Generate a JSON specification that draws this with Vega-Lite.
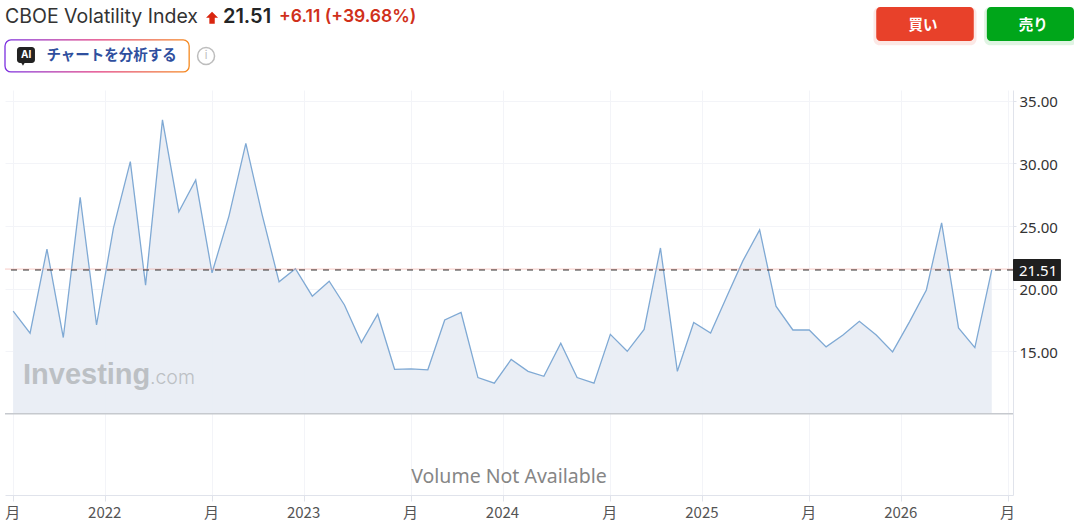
{
  "$schema": "https://vega.github.io/schema/vega-lite/v6.json",
  "width": 1008,
  "height": 405,
  "autosize": "none",
  "padding": {"left": 5, "top": 90, "right": 61, "bottom": 32},
  "background": "white",
  "view": {"stroke": null},
  "datasets": {
    "vix": [
      {"date": "2021-07-16", "close": 18.2},
      {"date": "2021-08-16", "close": 16.44},
      {"date": "2021-09-16", "close": 23.16},
      {"date": "2021-10-16", "close": 16.1},
      {"date": "2021-11-16", "close": 27.3},
      {"date": "2021-12-16", "close": 17.1},
      {"date": "2022-01-16", "close": 24.84},
      {"date": "2022-02-16", "close": 30.15},
      {"date": "2022-03-16", "close": 20.28},
      {"date": "2022-04-16", "close": 33.48},
      {"date": "2022-05-16", "close": 26.15},
      {"date": "2022-06-16", "close": 28.68},
      {"date": "2022-07-16", "close": 21.27},
      {"date": "2022-08-16", "close": 25.8},
      {"date": "2022-09-16", "close": 31.6},
      {"date": "2022-10-16", "close": 25.9},
      {"date": "2022-11-16", "close": 20.55},
      {"date": "2022-12-16", "close": 21.6},
      {"date": "2023-01-16", "close": 19.4},
      {"date": "2023-02-16", "close": 20.6},
      {"date": "2023-03-16", "close": 18.7},
      {"date": "2023-04-16", "close": 15.7},
      {"date": "2023-05-16", "close": 17.96},
      {"date": "2023-06-16", "close": 13.56},
      {"date": "2023-07-16", "close": 13.6},
      {"date": "2023-08-16", "close": 13.52},
      {"date": "2023-09-16", "close": 17.5},
      {"date": "2023-10-16", "close": 18.1},
      {"date": "2023-11-16", "close": 12.9},
      {"date": "2023-12-16", "close": 12.45},
      {"date": "2024-01-16", "close": 14.35},
      {"date": "2024-02-16", "close": 13.4},
      {"date": "2024-03-16", "close": 13.0},
      {"date": "2024-04-16", "close": 15.65},
      {"date": "2024-05-16", "close": 12.9},
      {"date": "2024-06-16", "close": 12.45},
      {"date": "2024-07-16", "close": 16.35},
      {"date": "2024-08-16", "close": 15.0},
      {"date": "2024-09-16", "close": 16.75},
      {"date": "2024-10-16", "close": 23.25},
      {"date": "2024-11-16", "close": 13.4},
      {"date": "2024-12-16", "close": 17.3},
      {"date": "2025-01-16", "close": 16.45},
      {"date": "2025-02-16", "close": 19.5},
      {"date": "2025-03-16", "close": 22.2},
      {"date": "2025-04-16", "close": 24.7},
      {"date": "2025-05-16", "close": 18.6},
      {"date": "2025-06-16", "close": 16.7},
      {"date": "2025-07-16", "close": 16.7},
      {"date": "2025-08-16", "close": 15.35},
      {"date": "2025-09-16", "close": 16.3},
      {"date": "2025-10-16", "close": 17.4},
      {"date": "2025-11-16", "close": 16.3},
      {"date": "2025-12-16", "close": 14.95},
      {"date": "2026-01-16", "close": 17.35},
      {"date": "2026-02-16", "close": 19.9},
      {"date": "2026-03-16", "close": 25.26},
      {"date": "2026-04-16", "close": 16.87},
      {"date": "2026-05-16", "close": 15.29},
      {"date": "2026-06-16", "close": 21.51}
    ],
    "last": [{"close": 21.51}]
  },
  "layer": [
    {
      "data": {"name": "vix"},
      "mark": {"type": "area", "fill": "#e8edf4", "opacity": 0.92},
      "encoding": {
        "x": {
          "field": "date",
          "type": "temporal",
          "scale": {"type": "utc", "domain": [{"year": 2021, "month": 7, "date": 1, "utc": true}, {"year": 2026, "month": 7, "date": 25, "utc": true}], "nice": false},
          "axis": {
            "title": null,
            "values": [
              {"year": 2021, "month": 7, "date": 16, "utc": true},
              {"year": 2022, "month": 1, "date": 1, "utc": true},
              {"year": 2022, "month": 7, "date": 16, "utc": true},
              {"year": 2023, "month": 1, "date": 1, "utc": true},
              {"year": 2023, "month": 7, "date": 16, "utc": true},
              {"year": 2024, "month": 1, "date": 1, "utc": true},
              {"year": 2024, "month": 7, "date": 16, "utc": true},
              {"year": 2025, "month": 1, "date": 1, "utc": true},
              {"year": 2025, "month": 7, "date": 16, "utc": true},
              {"year": 2026, "month": 1, "date": 1, "utc": true},
              {"year": 2026, "month": 7, "date": 16, "utc": true}
            ],
            "labelExpr": "utcmonth(datum.value) === 0 ? '' + utcyear(datum.value) : '月'",
            "labelFont": "Noto Sans CJK JP",
            "labelFontSize": 15,
            "labelColor": "#555555",
            "labelPadding": 4,
            "labelOffset": -1,
            "labelOverlap": false,
            "labelFlush": false,
            "tickColor": "#e0e3eb",
            "tickSize": 6,
            "domainColor": "#e0e3eb",
            "grid": true,
            "gridColor": "#f3f4f8"
          }
        },
        "y": {
          "field": "close",
          "type": "quantitative",
          "scale": {"domain": [3.52, 35.87], "nice": false, "zero": false},
          "axis": {
            "title": null,
            "orient": "right",
            "values": [15, 20, 25, 30, 35],
            "format": ".2f",
            "labelFont": "Noto Sans",
            "labelFontSize": 15,
            "labelColor": "#333333",
            "labelPadding": 3,
            "labelOffset": 1,
            "tickColor": "#e0e3eb",
            "tickSize": 3,
            "domainColor": "#e0e3eb",
            "grid": true,
            "gridColor": "#f3f4f8"
          }
        },
        "y2": {"datum": 10}
      }
    },
    {
      "data": {"values": [{"base": 10}]},
      "mark": {"type": "rule", "color": "#c6c9ce", "strokeWidth": 1.5},
      "encoding": {"y": {"field": "base", "type": "quantitative"}}
    },
    {
      "data": {"name": "vix"},
      "mark": {"type": "line", "color": "#7fa9d4", "strokeWidth": 1.3},
      "encoding": {
        "x": {"field": "date", "type": "temporal"},
        "y": {"field": "close", "type": "quantitative"}
      }
    },
    {
      "data": {"name": "last"},
      "mark": {"type": "rule", "color": "#333333", "strokeWidth": 1.2, "strokeDash": [6, 6]},
      "encoding": {"y": {"field": "close", "type": "quantitative"}}
    },
    {
      "data": {"name": "last"},
      "mark": {"type": "rule", "color": "#f2a8a0", "strokeWidth": 0.6, "yOffset": -0.7},
      "encoding": {"y": {"field": "close", "type": "quantitative"}}
    },
    {
      "data": {"name": "last"},
      "mark": {"type": "rect", "fill": "#1f1f1f", "cornerRadius": 1},
      "encoding": {
        "x": {"datum": {"year": 2026, "month": 7, "date": 25, "utc": true}, "type": "temporal"},
        "x2": {"datum": {"year": 2026, "month": 10, "date": 21, "utc": true}},
        "y": {"datum": 22.37},
        "y2": {"datum": 20.62}
      }
    },
    {
      "data": {"name": "last"},
      "mark": {"type": "text", "color": "white", "font": "Noto Sans", "fontSize": 15, "align": "center", "baseline": "middle", "dy": 1},
      "encoding": {
        "x": {"datum": {"year": 2026, "month": 9, "date": 9, "utc": true}, "type": "temporal"},
        "y": {"field": "close", "type": "quantitative"},
        "text": {"field": "close", "type": "quantitative", "format": ".2f"}
      }
    },
    {
      "data": {"values": [{"label": "Volume Not Available"}]},
      "mark": {"type": "text", "color": "#868686", "font": "Noto Sans", "fontSize": 19.5, "align": "center", "baseline": "middle"},
      "encoding": {
        "x": {"datum": {"year": 2024, "month": 1, "date": 12, "utc": true}, "type": "temporal"},
        "y": {"datum": 4.96},
        "text": {"field": "label"}
      }
    },
    {
      "data": {"values": [{"label": "Investing"}]},
      "mark": {"type": "text", "color": "#bcc0c4", "font": "Liberation Sans", "fontWeight": "bold", "fontSize": 29, "align": "left", "baseline": "middle"},
      "encoding": {
        "x": {"datum": {"year": 2021, "month": 8, "date": 3, "utc": true}, "type": "temporal"},
        "y": {"datum": 13.1},
        "text": {"field": "label"}
      }
    },
    {
      "data": {"values": [{"label": ".com"}]},
      "mark": {"type": "text", "color": "#bcc0c4", "font": "Inter", "fontWeight": 300, "fontSize": 19.5, "align": "left", "baseline": "middle"},
      "encoding": {
        "x": {"datum": {"year": 2022, "month": 3, "date": 24, "utc": true}, "type": "temporal"},
        "y": {"datum": 12.9},
        "text": {"field": "label"}
      }
    },
    {
      "data": {"values": [{"label": "CBOE Volatility Index"}]},
      "mark": {"type": "text", "color": "#333333", "font": "Inter", "fontSize": 19.5, "align": "left", "baseline": "middle"},
      "encoding": {
        "x": {"datum": {"year": 2021, "month": 7, "date": 1, "utc": true}, "type": "temporal"},
        "y": {"datum": 41.7},
        "text": {"field": "label"}
      }
    },
    {
      "data": {"values": [{"label": "up"}]},
      "mark": {"type": "point", "filled": true, "fill": "#d9260f", "opacity": 1, "size": 144, "shape": "M0,-1 L1,0 L0.45,0 L0.45,1 L-0.45,1 L-0.45,0 L-1,0 Z"},
      "encoding": {
        "x": {"datum": {"year": 2022, "month": 7, "date": 16, "utc": true}, "type": "temporal"},
        "y": {"datum": 41.65}
      }
    },
    {
      "data": {"values": [{"label": "21.51"}]},
      "mark": {"type": "text", "color": "#232526", "font": "Inter", "fontWeight": 600, "fontSize": 20, "align": "left", "baseline": "middle"},
      "encoding": {
        "x": {"datum": {"year": 2022, "month": 8, "date": 5, "utc": true}, "type": "temporal"},
        "y": {"datum": 41.7},
        "text": {"field": "label"}
      }
    },
    {
      "data": {"values": [{"label": "+6.11  (+39.68%)"}]},
      "mark": {"type": "text", "color": "#d0301a", "font": "Inter", "fontWeight": 600, "fontSize": 17.5, "align": "left", "baseline": "middle"},
      "encoding": {
        "x": {"datum": {"year": 2022, "month": 11, "date": 16, "utc": true}, "type": "temporal"},
        "y": {"datum": 41.7},
        "text": {"field": "label"}
      }
    },
    {
      "data": {"values": [{"label": "AI"}]},
      "mark": {
        "type": "rect",
        "fill": "white",
        "strokeWidth": 1.3,
        "cornerRadius": 6,
        "stroke": {
          "gradient": "linear",
          "x1": 0, "y1": 0, "x2": 1, "y2": 0,
          "stops": [
            {"offset": 0, "color": "#7b2fe0"},
            {"offset": 0.5, "color": "#e0357e"},
            {"offset": 1, "color": "#f58a1f"}
          ]
        }
      },
      "encoding": {
        "x": {"datum": {"year": 2021, "month": 7, "date": 1, "utc": true}, "type": "temporal"},
        "x2": {"datum": {"year": 2022, "month": 6, "date": 4, "utc": true}},
        "y": {"datum": 39.87},
        "y2": {"datum": 37.31}
      }
    },
    {
      "data": {"values": [{"label": "AI"}]},
      "mark": {"type": "rect", "fill": "#222222", "cornerRadius": 3},
      "encoding": {
        "x": {"datum": {"year": 2021, "month": 7, "date": 23, "utc": true}, "type": "temporal"},
        "x2": {"datum": {"year": 2021, "month": 8, "date": 25, "utc": true}},
        "y": {"datum": 39.3},
        "y2": {"datum": 38.03}
      }
    },
    {
      "data": {"values": [{"label": "AI"}]},
      "mark": {"type": "point", "shape": "triangle-down", "filled": true, "fill": "#222222", "opacity": 1, "size": 30},
      "encoding": {
        "x": {"datum": {"year": 2021, "month": 8, "date": 3, "utc": true}, "type": "temporal"},
        "y": {"datum": 38.0}
      }
    },
    {
      "data": {"values": [{"label": "AI"}]},
      "mark": {"type": "text", "color": "white", "font": "Inter", "fontWeight": "bold", "fontSize": 10, "align": "center", "baseline": "middle"},
      "encoding": {
        "x": {"datum": {"year": 2021, "month": 8, "date": 9, "utc": true}, "type": "temporal"},
        "y": {"datum": 38.68},
        "text": {"field": "label"}
      }
    },
    {
      "data": {"values": [{"label": "チャートを分析する"}]},
      "mark": {"type": "text", "color": "#2f4f9e", "font": "Noto Sans CJK JP", "fontWeight": "bold", "fontSize": 14.5, "align": "left", "baseline": "middle"},
      "encoding": {
        "x": {"datum": {"year": 2021, "month": 9, "date": 15, "utc": true}, "type": "temporal"},
        "y": {"datum": 38.59},
        "text": {"field": "label"}
      }
    },
    {
      "data": {"values": [{"label": "i"}]},
      "mark": {"type": "point", "shape": "circle", "filled": false, "stroke": "#bdbdbd", "strokeWidth": 1.5, "opacity": 1, "size": 289},
      "encoding": {
        "x": {"datum": {"year": 2022, "month": 7, "date": 5, "utc": true}, "type": "temporal"},
        "y": {"datum": 38.59}
      }
    },
    {
      "data": {"values": [{"label": "i"}]},
      "mark": {"type": "text", "color": "#bdbdbd", "font": "Inter", "fontSize": 11, "align": "center", "baseline": "middle"},
      "encoding": {
        "x": {"datum": {"year": 2022, "month": 7, "date": 5, "utc": true}, "type": "temporal"},
        "y": {"datum": 38.59},
        "text": {"field": "label"}
      }
    },
    {
      "data": {"values": [{"label": "shadow"}]},
      "mark": {"type": "rect", "fill": "#e8412a", "opacity": 0.12, "cornerRadius": 6},
      "encoding": {
        "x": {"datum": {"year": 2025, "month": 11, "date": 11, "utc": true}, "type": "temporal"},
        "x2": {"datum": {"year": 2026, "month": 5, "date": 19, "utc": true}},
        "y": {"datum": 42.5},
        "y2": {"datum": 39.45}
      }
    },
    {
      "data": {"values": [{"label": "買い"}]},
      "mark": {"type": "rect", "fill": "#e8412a", "cornerRadius": 4},
      "encoding": {
        "x": {"datum": {"year": 2025, "month": 11, "date": 16, "utc": true}, "type": "temporal"},
        "x2": {"datum": {"year": 2026, "month": 5, "date": 14, "utc": true}},
        "y": {"datum": 42.5},
        "y2": {"datum": 39.79}
      }
    },
    {
      "data": {"values": [{"label": "買い"}]},
      "mark": {"type": "text", "color": "white", "font": "Noto Sans CJK JP", "fontWeight": "bold", "fontSize": 14.5, "align": "center", "baseline": "middle", "dy": 1},
      "encoding": {
        "x": {"datum": {"year": 2026, "month": 2, "date": 10, "utc": true}, "type": "temporal"},
        "y": {"datum": 41.06},
        "text": {"field": "label"}
      }
    },
    {
      "data": {"values": [{"label": "shadow"}]},
      "mark": {"type": "rect", "fill": "#00a61a", "opacity": 0.12, "cornerRadius": 6},
      "encoding": {
        "x": {"datum": {"year": 2026, "month": 6, "date": 2, "utc": true}, "type": "temporal"},
        "x2": {"datum": {"year": 2026, "month": 11, "date": 20, "utc": true}},
        "y": {"datum": 42.5},
        "y2": {"datum": 39.45}
      }
    },
    {
      "data": {"values": [{"label": "売り"}]},
      "mark": {"type": "rect", "fill": "#00a61a", "cornerRadius": 4},
      "encoding": {
        "x": {"datum": {"year": 2026, "month": 6, "date": 7, "utc": true}, "type": "temporal"},
        "x2": {"datum": {"year": 2026, "month": 11, "date": 14, "utc": true}},
        "y": {"datum": 42.5},
        "y2": {"datum": 39.79}
      }
    },
    {
      "data": {"values": [{"label": "売り"}]},
      "mark": {"type": "text", "color": "white", "font": "Noto Sans CJK JP", "fontWeight": "bold", "fontSize": 14.5, "align": "center", "baseline": "middle", "dy": 1},
      "encoding": {
        "x": {"datum": {"year": 2026, "month": 8, "date": 31, "utc": true}, "type": "temporal"},
        "y": {"datum": 41.06},
        "text": {"field": "label"}
      }
    }
  ]
}
